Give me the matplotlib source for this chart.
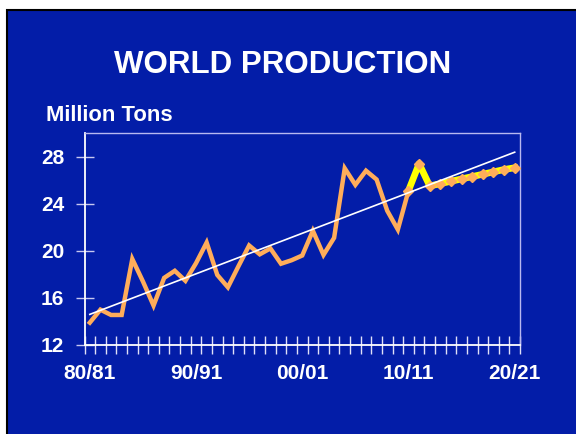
import matplotlib
matplotlib.use('Agg')
import matplotlib.pyplot as plt
from matplotlib.patches import Rectangle

plt.rcParams['font.family'] = ['Liberation Sans', 'DejaVu Sans']
plt.rcParams['font.weight'] = 'bold'

# crop years 1980/81 .. 2020/21
seasons = [f'{y % 100:02d}/{(y + 1) % 100:02d}' for y in range(1980, 2021)]
label_every = 10

# million tons
actual = [13.9, 15.0, 14.55, 14.55, 19.3, 17.4, 15.35, 17.7, 18.3, 17.45,
          18.95, 20.7, 17.95, 16.9, 18.7, 20.45, 19.7, 20.2, 18.9, 19.2,
          19.6, 21.7, 19.65, 21.1, 27.0, 25.6, 26.8, 26.05, 23.4, 21.8,
          25.1]
projection = [25.1, 27.4, 25.5, 25.7, 25.9, 26.1, 26.3, 26.5, 26.7, 26.9,
              27.05]
trend_start, trend_end = 14.6, 28.37

blue = '#031DA8'
orange = '#FFAD5A'
frame = '#B8B8F0'

fig = plt.figure(figsize=(5.76, 4.34), dpi=100, facecolor='white')
fig.patches.append(Rectangle((7 / 576, -0.01), 1.0, (434 - 10) / 434 + 0.01,
                             transform=fig.transFigure, facecolor=blue,
                             edgecolor='black', linewidth=1.5, zorder=-1))

ax = fig.add_axes([84.5 / 576, 89 / 434, 435.5 / 576, 212 / 434])
ax.set_zorder(2)
ax.set_facecolor(blue)

n_act = len(actual)
x_act = list(range(n_act))
x_proj = list(range(n_act - 1, n_act - 1 + len(projection)))

ax.plot(x_act, actual, color=orange, linewidth=3.2, solid_joinstyle='miter', zorder=2)
ax.plot(x_proj, projection, color='yellow', linewidth=4.8, zorder=2)
ax.plot(x_proj, projection, linestyle='none', marker='D', markersize=5.5,
        color=orange, zorder=3)
ax.plot([0, len(seasons) - 1], [trend_start, trend_end], color='white',
        linewidth=1.2, zorder=4)

ax.set_xlim(-0.5, len(seasons) - 0.5)
ax.set_ylim(12, 30)
ax.set_yticks([12, 16, 20, 24, 28])

major = list(range(0, len(seasons), label_every))
ax.set_xticks(major)
ax.set_xticklabels([seasons[i] for i in major])
ax.set_xticks([i - 0.5 for i in range(len(seasons) + 1)], minor=True)

ax.tick_params(axis='x', which='major', length=0, pad=13.5, labelsize=15,
               labelcolor='white')
ax.tick_params(axis='x', which='minor', direction='inout', length=13,
               width=1, color='#E0E0F8')
ax.tick_params(axis='y', direction='inout', length=13, width=1,
               color='#C8C8F0', pad=8, labelsize=15, labelcolor='white')

for side in ['left', 'bottom']:
    ax.spines[side].set_color('white')
    ax.spines[side].set_linewidth(1.3)
for side in ['top', 'right']:
    ax.spines[side].set_color(frame)
    ax.spines[side].set_linewidth(1)

fig.text(283 / 576, 1 - 73 / 434, 'WORLD PRODUCTION', ha='center',
         va='baseline', fontsize=22.5, color='white', fontweight='bold')
fig.text(46 / 576, 1 - 121 / 434, 'Million Tons', ha='left', va='baseline',
         fontsize=15.8, color='white', fontweight='bold')

fig.savefig('out.png', dpi=100, facecolor=fig.get_facecolor())
